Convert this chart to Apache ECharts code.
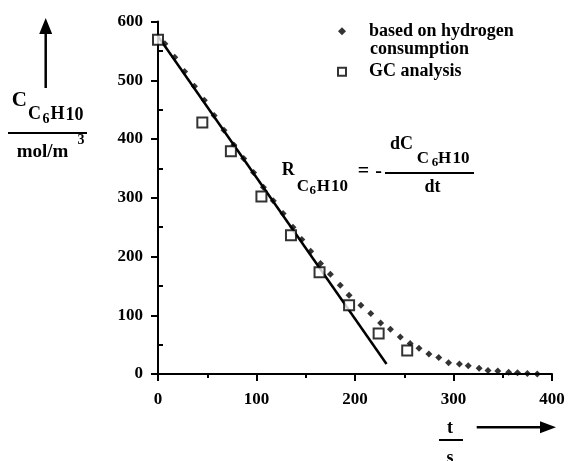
<!DOCTYPE html>
<html><head><meta charset="utf-8">
<script src="https://cdn.jsdelivr.net/npm/echarts@6/dist/echarts.min.js"></script>
<style>html,body{margin:0;padding:0;background:#fff}#c{width:568px;height:461px}</style>
</head><body><div id="c"></div>
<script>
// ---- data ----
const xTicks = [0, 100, 200, 300, 400];
const yTicks = [0, 100, 200, 300, 400, 500, 600];
const gcTime = [0, 45, 74, 105, 135, 164, 194, 224, 253];
const gcConc = [569, 428, 379, 302, 236, 173, 117, 69, 40];
const h2Time = [7, 17, 27, 37, 47, 57, 67, 77, 87, 97, 107, 117, 127, 137, 146, 155, 165, 175, 185, 194, 206, 216, 226, 236, 246, 256, 265, 275, 285, 295, 306, 315, 326, 335, 345, 356, 365, 375, 385];
const h2Conc = [562, 539, 515, 490, 466, 440, 415, 390, 367, 343, 318, 295, 273, 250, 229, 209, 188, 170, 151, 134, 117, 103, 87, 76, 63, 52, 44, 34, 28, 19, 17, 14, 10, 6, 5, 3, 2, 1, 0];
const fitTime = [0, 232];
const fitConc = [575, 17];
const seriesNames = ['based on hydrogen', 'GC analysis'];

const FF = '"Liberation Serif", "Times New Roman", serif';
const zip = (a, b) => a.map((v, i) => [v, b[i]]);
const font = (s) => 'bold ' + s + 'px ' + FF;

function txt(text, x, y, size, align) {
  return { type: 'text', x: x, y: y, silent: true,
    style: { text: text, font: font(size), fill: '#000', align: align || 'left', verticalAlign: 'middle' } };
}
function seg(x1, y1, x2, y2, w) {
  return { type: 'line', silent: true, shape: { x1: x1, y1: y1, x2: x2, y2: y2 },
    style: { stroke: '#000', lineWidth: w || 2 } };
}
function poly(points) {
  return { type: 'polygon', silent: true, shape: { points: points }, style: { fill: '#000' } };
}

const chart = echarts.init(document.getElementById('c'), null, { renderer: 'canvas' });
const axisCommon = {
  type: 'value',
  splitLine: { show: false },
  axisLine: { show: true, onZero: false, lineStyle: { color: '#000', width: 2 } },
  axisTick: { show: true, length: 7, lineStyle: { color: '#000', width: 2 } },
  axisLabel: { color: '#000', fontFamily: FF, fontWeight: 'bold', fontSize: 17 }
};

chart.setOption({
  animation: false,
  backgroundColor: '#fff',
  grid: { left: 158, right: 16, top: 21.5, bottom: 87, containLabel: false },
  xAxis: Object.assign({}, axisCommon, {
    min: xTicks[0], max: xTicks[xTicks.length - 1], interval: 100,
    minorTick: { show: true, splitNumber: 2, length: 4, lineStyle: { color: '#000', width: 2 } },
    axisLabel: Object.assign({}, axisCommon.axisLabel, { margin: 17 })
  }),
  yAxis: [
    Object.assign({}, axisCommon, {
      min: yTicks[0], max: yTicks[yTicks.length - 1], interval: 100,
      axisLabel: Object.assign({}, axisCommon.axisLabel, { margin: 15 })
    }),
    {
      type: 'value', position: 'left', min: yTicks[0], max: yTicks[yTicks.length - 1], interval: 100,
      splitLine: { show: false }, axisLine: { show: false }, axisLabel: { show: false },
      axisTick: { show: false, inside: true },
      minorTick: { show: true, splitNumber: 2, length: 5, lineStyle: { color: '#000', width: 2 } }
    }
  ],
  legend: {
    data: seriesNames,
    orient: 'vertical', left: 332, top: 17.2,
    itemWidth: 8, itemHeight: 8, itemGap: 22.5,
    formatter: (n) => '{s|}' + n,
    textStyle: { color: '#000', fontFamily: FF, fontWeight: 'bold', fontSize: 18, lineHeight: 16,
      rich: { s: { width: 18, lineHeight: 16 } } }
  },
  series: [
    { name: 'fit', type: 'line', data: zip(fitTime, fitConc), showSymbol: false, symbol: 'none',
      lineStyle: { color: '#000', width: 2.5 }, z: 2, silent: true },
    { name: seriesNames[0], type: 'scatter', data: zip(h2Time, h2Conc), symbol: 'diamond', symbolSize: 7,
      itemStyle: { color: '#000' }, z: 3 },
    { name: seriesNames[1], type: 'scatter', data: zip(gcTime, gcConc), symbol: 'rect', symbolSize: 10,
      itemStyle: { color: '#fff', borderColor: '#000', borderWidth: 2 }, z: 4 }
  ],
  graphic: [
    // legend second line
    txt('consumption', 370, 49.5, 18),
    // y-axis title
    txt('C', 11.7, 101, 21),
    txt('C', 28, 114.5, 18),
    txt('6', 42.5, 119, 14),
    txt('H', 50.5, 114.5, 18),
    txt('10', 65.5, 115, 18),
    seg(8, 133, 87, 133, 2),
    txt('mol/m', 16.7, 152, 19),
    txt('3', 77.5, 140, 14),
    seg(45.7, 32, 45.7, 88, 2.5),
    poly([[45.7, 18], [39.2, 34], [52.2, 34]]),
    // x-axis title
    txt('t', 450, 428, 18, 'center'),
    seg(439, 440, 463, 440, 2),
    txt('s', 450, 458, 18, 'center'),
    seg(476.7, 427.3, 543, 427.3, 2.5),
    poly([[556, 427.3], [540, 421.3], [540, 433.3]]),
    // rate equation
    txt('R', 281.7, 170, 18),
    txt('C', 296.7, 187, 17),
    txt('6', 309.5, 191, 13),
    txt('H', 316.7, 187, 17),
    txt('10', 331, 187, 17),
    txt('=', 363.5, 172, 20, 'center'),
    txt('-', 378.5, 172, 20, 'center'),
    seg(385, 173, 474, 173, 2),
    txt('dC', 390, 144, 18),
    txt('C', 416.7, 158.5, 17),
    txt('6', 431.7, 163, 13),
    txt('H', 438, 158.5, 17),
    txt('10', 452.5, 158.5, 17),
    txt('dt', 432.5, 187, 18, 'center')
  ]
});
</script>
</body></html>
